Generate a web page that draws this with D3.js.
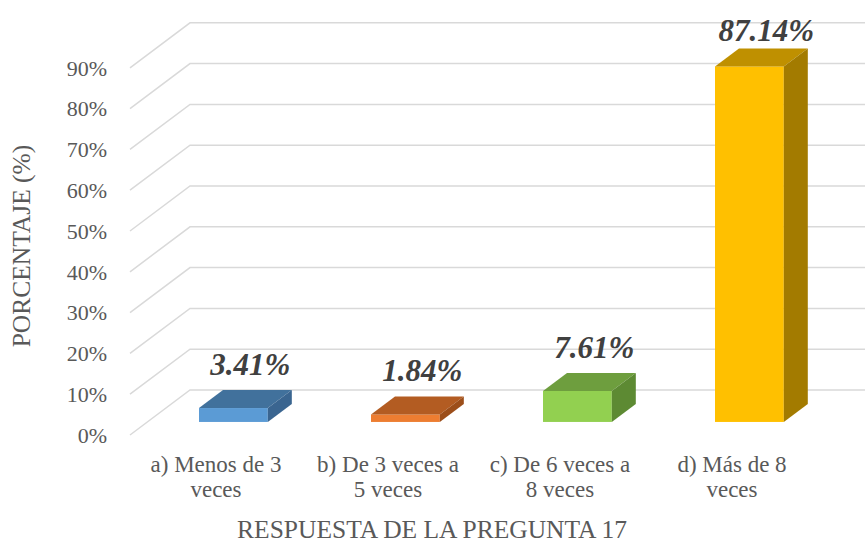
<!DOCTYPE html>
<html>
<head>
<meta charset="utf-8">
<script src="https://cdn.jsdelivr.net/npm/d3@7"></script>
<style>
  body { margin: 0; background: #fff; }
</style>
</head>
<body>
<div id="chart"></div>
<script>
// data
const categories = ['a) Menos de 3|veces', 'b) De 3 veces a|5 veces', 'c) De 6 veces a|8 veces', 'd) Más de 8|veces'];
const values = [3.41, 1.84, 7.61, 87.14];
const ticks = [0, 10, 20, 30, 40, 50, 60, 70, 80, 90];
const faceColors = [
    { front: '#5B9BD5', top: '#41719C', side: '#3A6590' },
    { front: '#ED7D31', top: '#B35C22', side: '#9C4E1A' },
    { front: '#92D050', top: '#6E9E3E', side: '#5D8A33' },
    { front: '#FFC000', top: '#BF9000', side: '#A37B00' }
];

const W = 865, H = 543;
const DX = 60, DY = -45;       // full depth of the 3d box
const t0 = 0.29, t1 = 0.69;    // where the columns sit in depth
const FONT = 'Liberation Serif';

const svg = d3.select('#chart').append('svg')
    .attr('width', W).attr('height', H);

const x = d3.scaleBand().domain(categories).range([130, 818]).padding(0);
const y = d3.scaleLinear().domain([0, 100]).range([435, 27]);
const barW = x.bandwidth() * 0.4;

// ######## gridlines (side wall + back wall) ########
svg.append('g').selectAll('polyline')
    .data(ticks)
    .join('polyline')
    .attr('points', d => {
        const yy = y(d);
        return [[130, yy], [130 + DX, yy + DY], [W, yy + DY]].map(p => p.join(',')).join(' ');
    })
    .attr('fill', 'none')
    .attr('stroke', '#D9D9D9')
    .attr('stroke-width', 1.5);

// tick labels
svg.append('g').selectAll('text')
    .data(ticks)
    .join('text')
    .attr('x', 107)
    .attr('y', d => y(d))
    .attr('dy', '0.35em')
    .attr('text-anchor', 'end')
    .attr('fill', '#595959')
    .attr('font-family', FONT)
    .attr('font-size', 22)
    .text(d => d + '%');

// ######## columns ########
const bars = svg.append('g').selectAll('g')
    .data(values.map((v, i) => ({ v: v, cat: categories[i], c: faceColors[i] })))
    .join('g');

const pts = arr => arr.map(p => p.join(',')).join(' ');

bars.each(function(d) {
    const g = d3.select(this);
    const xl = x(d.cat) + x.bandwidth() / 2 - barW / 2 + t0 * DX;
    const xr = xl + barW;
    const yb = y(0) + t0 * DY;
    const yt = y(d.v) + t0 * DY;
    const ddx = (t1 - t0) * DX, ddy = (t1 - t0) * DY;
    g.append('rect')
        .attr('x', xl).attr('y', yt)
        .attr('width', barW).attr('height', yb - yt)
        .attr('fill', d.c.front);
    g.append('polygon')
        .attr('points', pts([[xl, yt], [xl + ddx, yt + ddy], [xr + ddx, yt + ddy], [xr, yt]]))
        .attr('fill', d.c.top);
    g.append('polygon')
        .attr('points', pts([[xr, yt], [xr + ddx, yt + ddy], [xr + ddx, yb + ddy], [xr, yb]]))
        .attr('fill', d.c.side);
    g.append('text')
        .attr('x', x(d.cat) + x.bandwidth() / 2 + t0 * DX + 17)
        .attr('y', Math.max(y(d.v) + t1 * DY - 15, 41))
        .attr('text-anchor', 'middle')
        .attr('fill', '#404040')
        .attr('font-family', FONT)
        .attr('font-size', 31)
        .attr('font-weight', 'bold')
        .attr('font-style', 'italic')
        .text(d.v.toFixed(2) + '%');
});

// category labels
const catLabels = svg.append('g').selectAll('text')
    .data(categories)
    .join('text')
    .attr('x', d => x(d) + x.bandwidth() / 2)
    .attr('y', 472)
    .attr('text-anchor', 'middle')
    .attr('fill', '#595959')
    .attr('font-family', FONT)
    .attr('font-size', 23);
catLabels.selectAll('tspan')
    .data(d => d.split('|').map(s => ({ s: s, x: x(d) + x.bandwidth() / 2 })))
    .join('tspan')
    .attr('x', d => d.x)
    .attr('dy', (d, i) => i === 0 ? 0 : 25)
    .text(d => d.s);

// axis titles
svg.append('text')
    .attr('x', 432).attr('y', 538)
    .attr('text-anchor', 'middle')
    .attr('fill', '#595959')
    .attr('font-family', FONT)
    .attr('font-size', 25.5)
    .text('RESPUESTA DE LA PREGUNTA 17');

svg.append('text')
    .attr('transform', 'translate(30,246) rotate(-90)')
    .attr('text-anchor', 'middle')
    .attr('fill', '#595959')
    .attr('font-family', FONT)
    .attr('font-size', 25.5)
    .text('PORCENTAJE (%)');
</script>
</body>
</html>
